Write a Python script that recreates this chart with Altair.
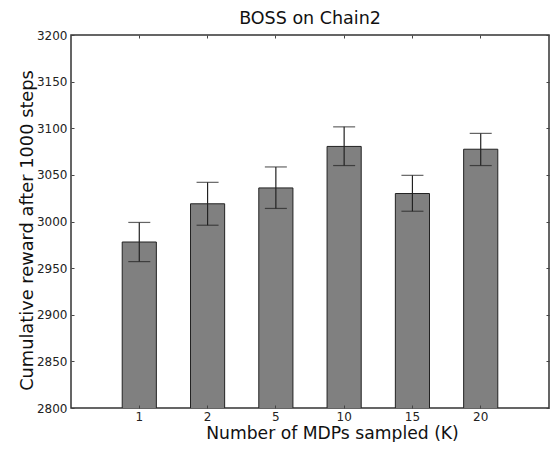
import altair as alt
import pandas as pd

# Data
K = ["1", "2", "5", "10", "15", "20"]
reward = [2978, 3019, 3036, 3080.5, 3030, 3077.5]
err_lo = [2957, 2996, 3014, 3060, 3011, 3060]
err_hi = [2999, 3042, 3058.5, 3101.5, 3049.5, 3094.5]
y_ticks = [2800, 2850, 2900, 2950, 3000, 3050, 3100, 3150, 3200]

df = pd.DataFrame({"K": K, "reward": reward, "lo": err_lo, "hi": err_hi})

FONT = "DejaVu Sans"
xscale = alt.Scale(domain=K, paddingInner=0.5, paddingOuter=0.75)
yscale = alt.Scale(domain=[2800, 3200], nice=False, zero=False)

tick_only = dict(labels=False, domain=False, title=None, grid=False,
                 tickSize=3, tickColor="#444", tickWidth=1, offset=-3, zindex=2)

base = alt.Chart(df)

bars = base.mark_bar(color="#808080", stroke="#222", strokeWidth=1, clip=True).encode(
    x=alt.X("K:N", sort=K, scale=xscale,
            axis=alt.Axis(title="Number of MDPs sampled (K)", labelAngle=0, ticks=False,
                          tickSize=0, domain=False, grid=False, labelFontSize=12,
                          labelPadding=3.5, titleFontSize=17.2,
                          titleX=261, titleY=30.5, titleBaseline="alphabetic",
                          titleAlign="center", titleAngle=0)),
    y=alt.Y("reward:Q", scale=yscale,
            axis=alt.Axis(title="Cumulative reward after 1000 steps", values=y_ticks,
                          format="d", ticks=False, tickSize=0, domain=False, grid=False,
                          labelFontSize=12, labelPadding=4, titleFontSize=17.8,
                          titleX=-39, titleY=195, titleBaseline="alphabetic",
                          titleAlign="center", titleAngle=270)),
)

rules = base.mark_rule(color="#222", strokeWidth=1.2).encode(
    x=alt.X("K:N", sort=K, scale=xscale, axis=alt.Axis(orient="bottom", **tick_only)),
    y=alt.Y("lo:Q", scale=yscale, axis=alt.Axis(orient="left", values=y_ticks, **tick_only)),
    y2="hi:Q",
)

lo_caps = base.mark_tick(color="#222", size=22, thickness=1.2).encode(
    x=alt.X("K:N", sort=K, scale=xscale, axis=alt.Axis(orient="top", **tick_only)),
    y=alt.Y("lo:Q", scale=yscale, axis=alt.Axis(orient="right", values=y_ticks, **tick_only)),
)

hi_caps = base.mark_tick(color="#222", size=22, thickness=1.2).encode(
    x=alt.X("K:N", sort=K, scale=xscale, axis=None),
    y=alt.Y("hi:Q", scale=yscale, axis=None),
)

chart = (
    alt.layer(bars, rules, lo_caps, hi_caps)
    .resolve_axis(x="independent", y="independent")
    .properties(
        width=478, height=373,
        title=alt.TitleParams("BOSS on Chain2", fontSize=17.5, font=FONT,
                              fontWeight="normal", color="#111", offset=2),
        autosize="none",
        padding={"left": 63, "top": 27, "right": 1, "bottom": 34},
    )
    .configure_view(stroke="#333", strokeWidth=1.5)
    .configure_axis(labelFont=FONT, titleFont=FONT, labelColor="#222",
                    titleColor="#111", titleFontWeight="normal")
)

chart.save("out.html", embed_options={"renderer": "svg", "actions": False})
